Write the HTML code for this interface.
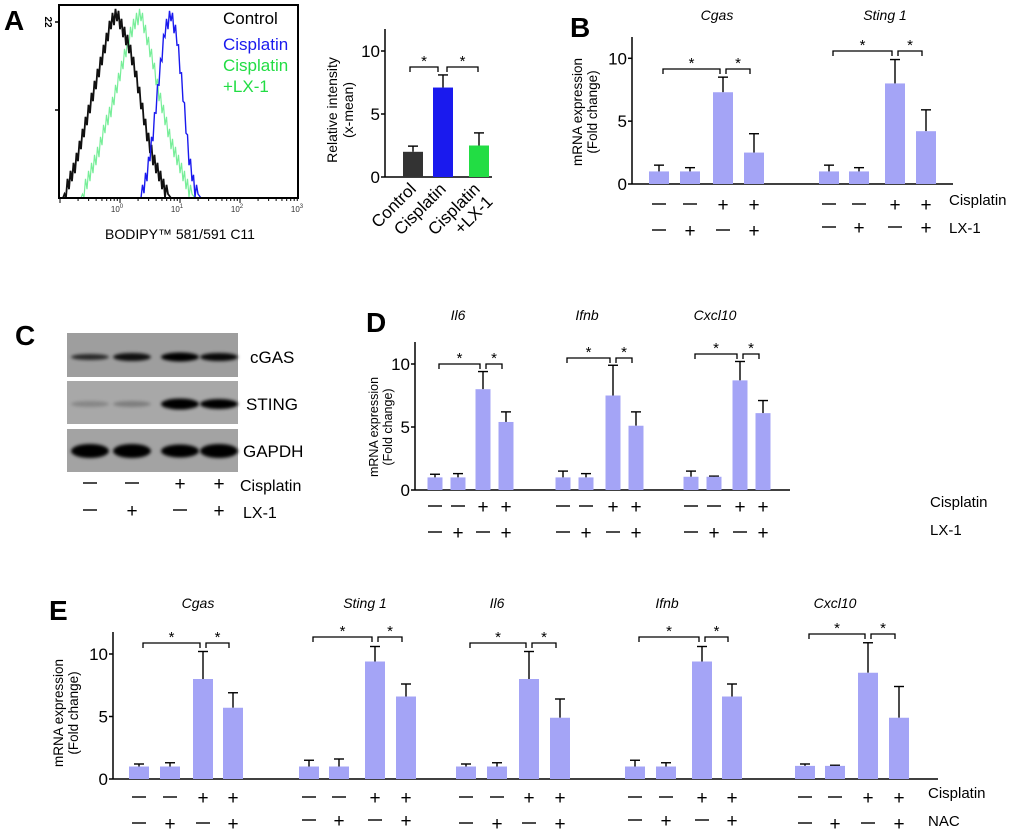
<!DOCTYPE html>
<html><head><meta charset="utf-8"><style>
html,body{margin:0;padding:0;background:#fff;}
svg{display:block;font-family:"Liberation Sans",Arial,sans-serif;}
</style></head><body>
<svg id="fig" width="1020" height="834" viewBox="0 0 1020 834" xmlns="http://www.w3.org/2000/svg">
<defs>
<filter id="blur2" x="-50%" y="-100%" width="200%" height="300%"><feGaussianBlur stdDeviation="1.6"/></filter>
<clipPath id="histclip"><rect x="59" y="5" width="239" height="193"/></clipPath>
</defs>
</svg>
<script>
// ===== Panel A histogram data (log10 bins, counts) =====
const histCtrlStart = -0.95;
const histCtrl = [0,2,4,7,10,13,16,19,22,23,21,19,16,12,8,5,3,1,0];
const histGreenStart = -0.65;
const histGreen = [0,2,4,6,9,11,14,17,20,22,23,20,17,13,10,7,5,3,1,0];
const histBlueStart = 0.35;
const histBlue = [0,3,8,15,21,23,20,13,5,1,0];
const histXTicks = ["0","1","2","3"];
// ===== Panel A bar chart =====
const aCats = ["Control","Cisplatin","Cisplatin|+LX-1"];
const aVals = [2.0, 7.1, 2.5];
const aErrs = [2.45, 8.1, 3.5];
const aColors = ["#333333","#1a1aee","#22dd44"];
const yTicks = [0,5,10];
// ===== Panel B =====
const bTitles = ["Cgas","Sting 1"];
const bVals = [[1,1,7.3,2.5],[1,1,8.0,4.2]];
const bErrs = [[1.5,1.3,8.5,4.0],[1.5,1.3,9.9,5.9]];
// ===== Panel D =====
const dTitles = ["Il6","Ifnb","Cxcl10"];
const dVals = [[1,1,8.0,5.4],[1,1,7.5,5.1],[1.05,1.05,8.7,6.1]];
const dErrs = [[1.25,1.3,9.4,6.2],[1.5,1.3,9.9,6.2],[1.5,1.1,10.2,7.1]];
// ===== Panel E =====
const eTitles = ["Cgas","Sting 1","Il6","Ifnb","Cxcl10"];
const eVals = [[1,1,8.0,5.7],[1,1,9.4,6.6],[1,1,8.0,4.9],[1,1,9.4,6.6],[1.05,1.05,8.5,4.9]];
const eErrs = [[1.2,1.3,10.2,6.9],[1.5,1.6,10.6,7.6],[1.2,1.3,10.2,6.4],[1.5,1.3,10.6,7.6],[1.2,1.1,10.9,7.4]];
// treatment rows
const row1 = ["−","−","+","+"];
const row2 = ["−","+","−","+"];

const NS="http://www.w3.org/2000/svg";
const svg=document.getElementById('fig');
function el(tag,attrs,parent,txt){const e=document.createElementNS(NS,tag);for(const k in attrs)e.setAttribute(k,attrs[k]);if(txt!==undefined)e.textContent=txt;(parent||svg).appendChild(e);return e;}
function grp(name,parent){const g=el('g',{},parent);return g;}
function txt(name,x,y,s,size,parent,extra){const t=el('text',Object.assign({x:x,y:y,'font-size':size,fill:'#000'},extra||{}),parent,s);return t;}
function sign(parent,x,y,s){
  if(s==='+'){ txt('treatment-sign-plus',x,y+1,'+',19,parent,{'text-anchor':'middle'}); }
  else { const l=el('line',{x1:x-7,x2:x+7,y1:y-6,y2:y-6,stroke:'#000','stroke-width':1.4},parent);
     }
}

[["A",4,30],["B",570,37],["C",15,345],["D",366,332],["E",49,620]].forEach(p=>{
  txt('panel-label-'+p[0].toLowerCase(),p[1],p[2],p[0],28,svg,{'font-weight':'bold'});
});

// ===== Panel A histogram =====
(function(){
  const g=grp('histogram-panel-a');
  const x0=59,x1=298,yb=198,yt=5;
  const lx=v=>120+(v)*60;
  const cy=c=>yb-c*8;
  const hg=el('g',{'clip-path':'url(#histclip)'},g);
  function hist(name,start,arr,color,w){
    let d='';
    arr.forEach((c,i)=>{
      const xa=lx(start+i*0.1);
      const n=4;
      for(let k=0;k<n;k++){
        const nx=i+1<arr.length?arr[i+1]:c;
        const cc=c+(nx-c)*k/n;
        const jit=(k%2?1:-1)*(cc>0.5?0.9:0);
        d+=((i===0&&k===0)?'M':'L')+(xa+k*1.5).toFixed(1)+','+cy(Math.max(0,cc+jit)).toFixed(1)+' ';
      }
    });
    const p=el('path',{d:d,fill:'none',stroke:color,'stroke-width':w},hg);
    
  }
  hist('histogram-cisplatin-lx1',histGreenStart,histGreen,'#77ee99',1.2);
  hist('histogram-control',histCtrlStart,histCtrl,'#111',1.8);
  hist('histogram-cisplatin',histBlueStart,histBlue,'#1a1aee',1.4);
  const box=el('rect',{x:x0,y:yt,width:x1-x0,height:yb-yt,fill:'none',stroke:'#000','stroke-width':2},g);
  
  [22,11].forEach(v=>{const l=el('line',{x1:x0-4,x2:x0,y1:cy(v),y2:cy(v),stroke:'#000','stroke-width':1.5},g);});
  txt('hist-y-max-label',45,22,'22',10,g,{transform:'rotate(90 45 22)','text-anchor':'middle','font-weight':'bold'});
  for(let dec=-1;dec<3;dec++){for(let m=1;m<10;m++){const xv=lx(dec+Math.log10(m));if(xv<x0||xv>x1)continue;
    const l=el('line',{x1:xv,x2:xv,y1:yb,y2:yb+(m===1?5:3),stroke:'#000','stroke-width':1},g);}}
  histXTicks.forEach(s=>{const xv=lx(+s);const tt=txt('hist-x-tick-label',xv-3,212,'10',8,g,{'text-anchor':'middle','fill':'#333'});
    el('tspan',{dy:-4,'font-size':6},tt,s);});
  txt('hist-x-axis-title',180,239,'BODIPY™ 581/591 C11',14,g,{'text-anchor':'middle'});
  txt('legend-control',223,24,'Control',17,g);
  txt('legend-cisplatin',223,50,'Cisplatin',17,g,{fill:'#1a1aee'});
  txt('legend-cisplatin-lx1',223,71,'Cisplatin',17,g,{fill:'#22dd44'});
  txt('legend-cisplatin-lx1-line2',223,92,'+LX-1',17,g,{fill:'#22dd44'});
})();

function axisY(g,ax,y0,ppu,top,tickSize){
  const l=el('line',{x1:ax,x2:ax,y1:top,y2:y0,stroke:'#000','stroke-width':1.5},g);
  yTicks.forEach(v=>{const y=y0-v*ppu;
    const tk=el('line',{x1:ax-4,x2:ax,y1:y,y2:y,stroke:'#000','stroke-width':1.5},g);
    txt('y-tick-label',ax-5,y+6,String(v),tickSize,g,{'text-anchor':'end'});});
}
function barWithErr(g,name,cx,w,v,e,y0,ppu,color){
  const y=y0-v*ppu,ye=y0-e*ppu;
  const ln=el('line',{x1:cx,x2:cx,y1:y,y2:ye,stroke:'#000','stroke-width':1.4},g);
  const cap=el('line',{x1:cx-5,x2:cx+5,y1:ye,y2:ye,stroke:'#000','stroke-width':1.4},g);
  const r=el('rect',{x:cx-w/2,y:y,width:w,height:v*ppu,fill:color},g);
}
function bracket(g,xa,xb,y){
  const p=el('path',{d:`M${xa},${y+5} V${y} H${xb} V${y+5}`,fill:'none',stroke:'#000','stroke-width':1.3},g);
  
  txt('significance-star',(xa+xb)/2,y-1,'*',15,g,{'text-anchor':'middle'});
}
function mrnaPanel(cfg){
  const g=grp(cfg.name);
  const BAR='#a4a4f6';
  axisY(g,cfg.ax,cfg.y0,cfg.ppu,cfg.top,cfg.tick);
  const bl=el('line',{x1:cfg.ax,x2:cfg.end,y1:cfg.y0,y2:cfg.y0,stroke:'#000','stroke-width':1.5},g);
  cfg.titles.forEach((title,gi)=>{
    const cs=cfg.centers[gi];
    txt('gene-title-'+title.toLowerCase().replace(' ','-'),cfg.titleX[gi],cfg.titleY,title,14,g,{'font-style':'italic','text-anchor':'middle'});
    cfg.vals[gi].forEach((v,i)=>barWithErr(g,'bar-'+title.toLowerCase().replace(' ','-')+'-'+(i+1),cs[i],cfg.w,v,cfg.errs[gi][i],cfg.y0,cfg.ppu,BAR));
    const by=cfg.bracketY[gi];
    bracket(g,cs[0]+4,cs[2]-3,by);
    bracket(g,cs[2]+3,cs[3]-4,by);
    row1.forEach((s,i)=>sign(g,cs[i],cfg.s1,s));
    row2.forEach((s,i)=>sign(g,cs[i],cfg.s2+(gi%2&&cfg.stagger?-3:0),s));
  });
  txt('row-label-cisplatin',cfg.lx,cfg.s1-5,'Cisplatin',15,g);
  txt('row-label-'+cfg.r2.toLowerCase(),cfg.lx,cfg.s2-3,cfg.r2,15,g);
  const yl=txt('y-axis-title',0,0,'',cfg.ylSize,g,{'text-anchor':'middle',transform:`translate(${cfg.ylx},${cfg.yly}) rotate(-90)`});
  el('tspan',{x:0,dy:0},yl,'mRNA expression');
  el('tspan',{x:0,dy:cfg.ylSize*1.1},yl,'(Fold change)');
}

(function(){
  const g=grp('bar-chart-panel-a');
  const ax=385,y0=177,ppu=12.6,centers=[413,443,479];
  axisY(g,ax,y0,ppu,29,17);
  const bl=el('line',{x1:ax,x2:492,y1:y0,y2:y0,stroke:'#000','stroke-width':1.5},g);
  aVals.forEach((v,i)=>barWithErr(g,'bar-'+aCats[i].split('|').join('-').toLowerCase(),centers[i],20,v,aErrs[i],y0,ppu,aColors[i]));
  bracket(g,410,438,67);bracket(g,447,478,67);
  aCats.forEach((c,i)=>{const parts=c.split('|');const ex=centers[i]+(parts.length>1?2:4),ey=190;
    const t=txt('x-label-'+parts.join('-').toLowerCase(),ex,ey,'',17,g,{'text-anchor':'end',transform:`rotate(-45 ${ex} ${ey})`});
    el('tspan',{x:ex,dy:0},t,parts[0]);
    if(parts[1]) el('tspan',{x:ex,dy:18},t,parts[1]);
  });
  const yl=txt('y-axis-title',0,0,'',14,g,{'text-anchor':'middle',transform:'translate(337,110) rotate(-90)'});
  el('tspan',{x:0,dy:0},yl,'Relative intensity');
  el('tspan',{x:0,dy:16},yl,'(x-mean)');
})();

mrnaPanel({name:'panel-b',ax:632,y0:184,ppu:12.57,top:37,end:953,tick:17,w:20,
  titles:bTitles,vals:bVals,errs:bErrs,centers:[[659,690,723,754],[829,859,895,926]],
  titleX:[717,885],titleY:20,bracketY:[69,51],s1:210,s2:236,lx:949,r2:'LX-1',stagger:true,
  ylx:582,yly:112,ylSize:13.5});

mrnaPanel({name:'panel-d',ax:415,y0:490,ppu:12.6,top:342,end:790,tick:17,w:15,
  titles:dTitles,vals:dVals,errs:dErrs,centers:[[435,458,483,506],[563,586,613,636],[691,714,740,763]],
  titleX:[458,587,715],titleY:320,bracketY:[364,358,354],s1:512,s2:538,lx:930,r2:'LX-1',stagger:false,
  ylx:378,yly:427,ylSize:12.5});

mrnaPanel({name:'panel-e',ax:113,y0:779,ppu:12.5,top:632,end:938,tick:17,w:20,
  titles:eTitles,vals:eVals,errs:eErrs,
  centers:[[139,170,203,233],[309,339,375,406],[466,497,529,560],[635,666,702,732],[805,835,868,899]],
  titleX:[198,365,497,667,835],titleY:608,bracketY:[643,637,643,637,634],s1:803,s2:829,lx:928,r2:'NAC',stagger:true,
  ylx:63,yly:713,ylSize:13.5});

(function(){
  const g=grp('western-blot-panel-c');
  const lanes=[90,132,180,219];
  const strips=[{n:'cGAS',y:333,h:44,bg:'#9e9e9e',bands:[[0.75,4],[0.9,6],[1,7],[0.95,6]],by:357},
                {n:'STING',y:381,h:43,bg:'#a8a8a8',bands:[[0.2,4],[0.25,4],[1,9],[1,8]],by:404},
                {n:'GAPDH',y:429,h:43,bg:'#a3a3a3',bands:[[1,12],[1,12],[1,11],[1,12]],by:451}];
  strips.forEach(s=>{
    const r=el('rect',{x:67,y:s.y,width:171,height:s.h,fill:s.bg},g);
    s.bands.forEach((b,i)=>{const e=el('ellipse',{cx:lanes[i],cy:s.by,rx:19,ry:b[1]/2+1,fill:'#050505','fill-opacity':b[0],filter:'url(#blur2)'},g);
      });
    txt('blot-label-'+s.n.toLowerCase(),s.n==='GAPDH'?243:(s.n==='STING'?246:250),s.by+6,s.n,17,g);
  });
  row1.forEach((s,i)=>sign(g,lanes[i],489,s));
  row2.forEach((s,i)=>sign(g,lanes[i],516,s));
  txt('row-label-cisplatin',240,491,'Cisplatin',16,g);
  txt('row-label-lx-1',243,518,'LX-1',16,g);
})();
</script>
</body></html>
